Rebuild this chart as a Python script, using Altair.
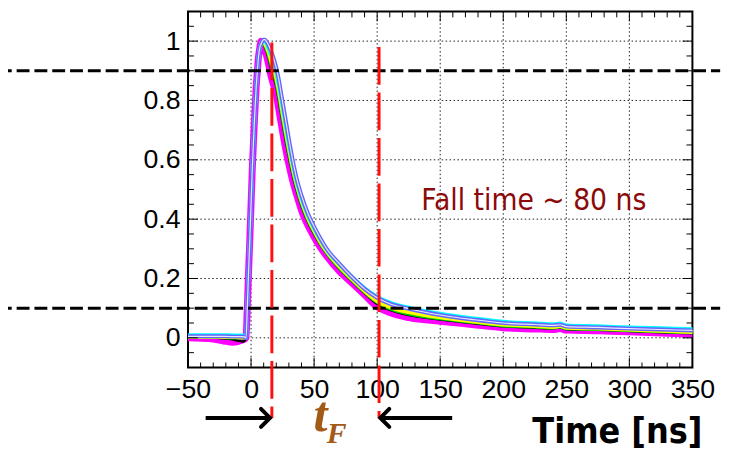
import altair as alt
import pandas as pd

# ---------------- data ----------------
PRE_T = [-50, -30, -20, -15, -10, -6]
RISE_T = [-4, -3, -2, -1, 0, 1, 2, 3, 4, 5, 6, 7]
RISE_V = [0.0, 0.1, 0.22, 0.33, 0.45, 0.57, 0.67, 0.76, 0.84, 0.9, 0.95, 0.98]
FALL_T = [8, 9, 10, 11, 12, 14, 16, 18, 20, 22, 24, 26, 28, 30, 33, 36, 40, 45, 50,
          55, 60, 70, 80, 90, 100, 110, 125, 150, 175, 200, 225, 240, 245, 250,
          275, 300, 325, 350]

MAGENTA_PRE = [0.0, -0.004, -0.012, -0.015, -0.012, -0.006]
MAGENTA_FALL = [1.0, 0.995, 0.985, 0.97, 0.955, 0.92, 0.88, 0.85, 0.82, 0.77, 0.72, 0.67,
                0.625, 0.585, 0.53, 0.485, 0.43, 0.38, 0.34, 0.305, 0.275, 0.225, 0.185,
                0.145, 0.105, 0.085, 0.068, 0.056, 0.045, 0.034, 0.03, 0.028, 0.031,
                0.026, 0.024, 0.02, 0.016, 0.012]
BLACK_PRE = [0.0, 0.0, -0.002, -0.005, -0.01, -0.012]
BLACK_FALL = [0.995, 0.998, 0.99, 0.98, 0.968, 0.94, 0.905, 0.877, 0.847, 0.8, 0.75, 0.7,
              0.653, 0.61, 0.55, 0.5, 0.445, 0.392, 0.35, 0.314, 0.283, 0.233, 0.191,
              0.151, 0.114, 0.094, 0.077, 0.062, 0.05, 0.039, 0.034, 0.032, 0.035,
              0.029, 0.027, 0.023, 0.019, 0.015]
GREEN_PRE = [0.002, 0.002, 0.001, 0.0, 0.0, 0.0]
GREEN_FALL = [0.995, 1.0, 0.995, 0.985, 0.975, 0.95, 0.918, 0.89, 0.86, 0.815, 0.765, 0.715,
              0.668, 0.623, 0.562, 0.51, 0.453, 0.398, 0.356, 0.318, 0.286, 0.236, 0.194,
              0.154, 0.12, 0.098, 0.081, 0.065, 0.053, 0.041, 0.037, 0.034, 0.037,
              0.031, 0.029, 0.025, 0.021, 0.018]
YELLOW_PRE = [0.003, 0.003, 0.002, 0.002, 0.001, 0.001]
YELLOW_FALL = [0.993, 1.0, 1.0, 0.99, 0.982, 0.96, 0.93, 0.904, 0.874, 0.83, 0.78, 0.73,
               0.682, 0.636, 0.572, 0.518, 0.46, 0.404, 0.36, 0.322, 0.29, 0.24, 0.197,
               0.157, 0.123, 0.103, 0.086, 0.068, 0.055, 0.044, 0.039, 0.036, 0.039,
               0.033, 0.031, 0.027, 0.023, 0.019]
CYAN_PRE = [0.009, 0.009, 0.009, 0.008, 0.008, 0.008]
CYAN_FALL = [0.99, 1.0, 1.005, 1.0, 0.995, 0.975, 0.952, 0.927, 0.896, 0.855, 0.805, 0.755,
             0.705, 0.657, 0.59, 0.532, 0.472, 0.414, 0.37, 0.331, 0.297, 0.248, 0.205,
             0.167, 0.138, 0.119, 0.102, 0.081, 0.066, 0.054, 0.049, 0.046, 0.048,
             0.042, 0.039, 0.035, 0.032, 0.029]
BLUE_PRE = [0.005, 0.005, 0.005, 0.004, 0.004, 0.004]
BLUE_FALL = [0.99, 1.0, 1.005, 1.005, 1.0, 0.985, 0.965, 0.94, 0.91, 0.87, 0.82, 0.77,
             0.72, 0.67, 0.6, 0.54, 0.48, 0.42, 0.375, 0.335, 0.3, 0.25, 0.205, 0.165,
             0.135, 0.115, 0.098, 0.077, 0.062, 0.05, 0.045, 0.042, 0.044, 0.038,
             0.035, 0.031, 0.028, 0.025]

X_MAJOR = [-50, 0, 50, 100, 150, 200, 250, 300, 350]
X_MINOR = [v for v in range(-40, 350, 10) if v % 50 != 0]
Y_MAJOR = [0, 0.2, 0.4, 0.6, 0.8, 1]
Y_MINOR = [-0.05, 0.05, 0.1, 0.15, 0.25, 0.3, 0.35, 0.45, 0.5, 0.55, 0.65, 0.7,
           0.75, 0.85, 0.9, 0.95, 1.05]

LEVELS = [0.9, 0.1]
T_START, T_END = 16.5, 101.5


def series(pre, fall):
    return pd.DataFrame({"t": PRE_T + RISE_T + FALL_T, "v": pre + RISE_V + fall})


xs = alt.Scale(domain=[-50, 350], nice=False, zero=False)
ys = alt.Scale(domain=[-0.1, 1.1], nice=False, zero=False)

AX_FONT = "Liberation Sans, Arial, Helvetica, sans-serif"
x_axis = alt.Axis(values=X_MAJOR, format=".0f", labelFontSize=27, labelFont=AX_FONT,
                  labelColor="black", ticks=False, domain=False, grid=False,
                  labelPadding=9, labelFlush=False, labelOverlap=False, title=None)
y_axis = alt.Axis(values=Y_MAJOR, format=".1~f", labelFontSize=27, labelFont=AX_FONT,
                  labelColor="black", ticks=False, domain=False, grid=False,
                  labelPadding=8, labelFlush=False, labelOverlap=False, title=None)


def X(field="t"):
    return alt.X(f"{field}:Q", scale=xs, axis=x_axis)


def Y(field="v"):
    return alt.Y(f"{field}:Q", scale=ys, axis=y_axis)


def XD(val):
    return alt.XDatum(val, scale=xs, axis=x_axis)


def YD(val):
    return alt.YDatum(val, scale=ys, axis=y_axis)


# grid
xgrid = alt.Chart(pd.DataFrame({"t": X_MAJOR[1:-1]})).mark_rule(
    color="#222", strokeWidth=1, strokeDash=[1.5, 2.5]
).encode(x=X())
ygrid = alt.Chart(pd.DataFrame({"v": Y_MAJOR})).mark_rule(
    color="#222", strokeWidth=1, strokeDash=[1.5, 2.5]
).encode(y=Y())


def line(df, color, width):
    return alt.Chart(df).mark_line(color=color, strokeWidth=width, interpolate="monotone").encode(
        x=X(), y=Y()
    )


curves = [
    line(series(MAGENTA_PRE, MAGENTA_FALL), "#ff00ff", 7),
    line(series(BLACK_PRE, BLACK_FALL), "#000000", 2.5),
    line(series(GREEN_PRE, GREEN_FALL), "#00d000", 3.5),
    line(series(YELLOW_PRE, YELLOW_FALL), "#ffff00", 3.5),
    line(series(CYAN_PRE, CYAN_FALL), "#00ffff", 4),
    line(series(BLUE_PRE, BLUE_FALL), "#6464ff", 4),
    line(series(BLUE_PRE, BLUE_FALL), "#e8e8ff", 1.2),
]


# ticks inside the frame
def xticks(vals, y0, y1):
    return alt.Chart(pd.DataFrame({"t": vals})).mark_rule(color="black", strokeWidth=1).encode(
        x=X(), y=alt.value(y0), y2=alt.value(y1))


def yticks(vals, x0, x1):
    return alt.Chart(pd.DataFrame({"v": vals})).mark_rule(color="black", strokeWidth=1).encode(
        y=Y(), x=alt.value(x0), x2=alt.value(x1))


ticks = [
    xticks(X_MAJOR, 0, 10), xticks(X_MAJOR, 360, 350),
    xticks(X_MINOR, 0, 6), xticks(X_MINOR, 360, 355),
    yticks(Y_MAJOR, 0, 10), yticks(Y_MAJOR, 510, 500),
    yticks(Y_MINOR, 0, 6), yticks(Y_MINOR, 510, 504),
]

# horizontal dashed levels
levels = alt.Chart(pd.DataFrame({"v": LEVELS})).mark_rule(
    color="black", strokeWidth=3, strokeDash=[13, 5]
).encode(y=Y(), x=XD(-200), x2=alt.X2Datum(372))

RED = "#ff1010"
red1 = alt.Chart().mark_rule(color=RED, strokeWidth=3, strokeDash=[38, 8]).encode(
    x=XD(T_START), y=YD(0.995), y2=alt.Y2Datum(-0.27))
red2 = alt.Chart().mark_rule(color=RED, strokeWidth=3, strokeDash=[38, 8]).encode(
    x=XD(T_END), y=YD(0.98), y2=alt.Y2Datum(-0.27))

# arrows
arr1 = alt.Chart().mark_rule(color="black", strokeWidth=4).encode(
    x=XD(-36), x2=alt.X2Datum(T_START - 1.5), y=YD(-0.27))
arr2 = alt.Chart().mark_rule(color="black", strokeWidth=4).encode(
    x=XD(159.5), x2=alt.X2Datum(T_END + 1.0), y=YD(-0.27))
head1 = alt.Chart().mark_point(shape="M -1 -1 L 0 0 L -1 1", filled=False, size=330,
                               strokeWidth=4, color="black", opacity=1,
                               strokeCap="round").encode(
    x=XD(T_START - 1.5), y=YD(-0.27))
head2 = alt.Chart().mark_point(shape="M 1 -1 L 0 0 L 1 1", filled=False, size=330,
                               strokeWidth=4, color="black", opacity=1,
                               strokeCap="round").encode(
    x=XD(T_END + 1.0), y=YD(-0.27))

NARROW = "DejaVu Sans Condensed, Liberation Sans, sans-serif"
SERIF = "Liberation Serif, Times New Roman, serif"
fall_txt = alt.Chart().mark_text(text="Fall time ~ 80 ns", font=NARROW, fontSize=30,
                                 color="#8b0a0a", align="left", baseline="alphabetic").encode(
    x=XD(135), y=YD(0.43))
t_txt = alt.Chart().mark_text(text="t", font=SERIF, fontSize=51, fontStyle="italic",
                              fontWeight="bold", color="#a35a17", align="left",
                              baseline="alphabetic").encode(
    x=XD(49.5), y=YD(-0.315))
f_txt = alt.Chart().mark_text(text="F", font=SERIF, fontSize=30, fontStyle="italic",
                              fontWeight="bold", color="#a35a17", align="left",
                              baseline="alphabetic").encode(
    x=XD(60), y=YD(-0.353))
title_txt = alt.Chart().mark_text(text="Time [ns]", font=NARROW, fontSize=36,
                                  fontWeight="bold", color="black", align="right",
                                  baseline="alphabetic").encode(
    x=XD(358), y=YD(-0.353))

chart = alt.layer(
    xgrid, ygrid, *curves, levels, red1, red2, *ticks,
    arr1, arr2, head1, head2, fall_txt, t_txt, f_txt, title_txt
).properties(
    width=510, height=360,
    autosize=alt.AutoSizeParams(type="none"),
    padding={"left": 182, "top": 1, "right": 38, "bottom": 88},
    background="white",
).configure_view(stroke="black", strokeWidth=2)

chart.save("out.html", embed_options={"renderer": "svg", "actions": False})
